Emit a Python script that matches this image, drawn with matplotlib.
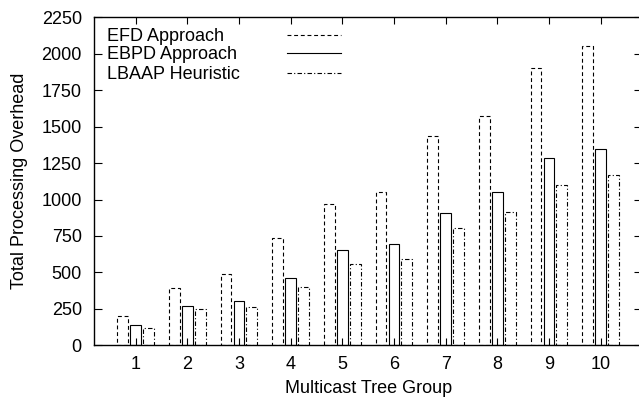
import matplotlib.pyplot as plt
import numpy as np

plt.rcParams["font.family"] = ["Liberation Sans", "DejaVu Sans"]
plt.rcParams["font.size"] = 13

groups = [1, 2, 3, 4, 5, 6, 7, 8, 9, 10]
efd = [201, 396, 492, 734, 969, 1054, 1438, 1571, 1900, 2051]
ebpd = [137, 267, 306, 464, 652, 695, 905, 1052, 1287, 1344]
lbaap = [121, 247, 265, 403, 556, 595, 805, 917, 1100, 1171]
labels = ["EFD Approach", "EBPD Approach", "LBAAP Heuristic"]
yticks = [0, 250, 500, 750, 1000, 1250, 1500, 1750, 2000, 2250]

styles = [(0, (3.5, 2.5)), "-", (0, (4, 2, 1, 2))]

fig = plt.figure(figsize=(6.39, 4.03), dpi=100)
ax = fig.add_axes([0.1476, 0.1432, 0.857, 0.8139])

x = np.array(groups, dtype=float)
width = 0.21
for off, vals, ls in zip([-0.25, 0.0, 0.25], [efd, ebpd, lbaap], styles):
    ax.bar(x + off, vals, width=width, fill=False, edgecolor="black",
           linewidth=0.8, linestyle=ls, zorder=3)

ax.set_xlim(0.2, 10.8)
ax.set_ylim(0, 2250)
ax.set_xticks(groups)
ax.set_yticks(yticks)
ax.tick_params(direction="in", length=5, width=0.8, top=True, right=True)
ax.tick_params(axis="y", pad=9)
ax.tick_params(axis="x", pad=8)
ax.tick_params(axis="y", which="major", right=True, length=6)
for sp in ax.spines.values():
    sp.set_linewidth(1.0)
# the right border falls just outside the cropped picture
ax.spines["right"].set_visible(False)

ax.set_xlabel("Multicast Tree Group", labelpad=5)
ax.set_ylabel("Total Processing Overhead", labelpad=10)

# gnuplot-style key: label on the left, line sample on the right
key_y = [0.929, 0.872, 0.813]
for lab, ls, ky in zip(labels, styles, key_y):
    ax.text(0.0227, ky, lab, transform=ax.transAxes, ha="left", va="baseline")
    ax.plot([0.351, 0.4497], [ky + 0.018, ky + 0.018], transform=ax.transAxes,
            color="black", linewidth=0.8, linestyle=ls, clip_on=False)

fig.savefig("out.png", dpi=100)
